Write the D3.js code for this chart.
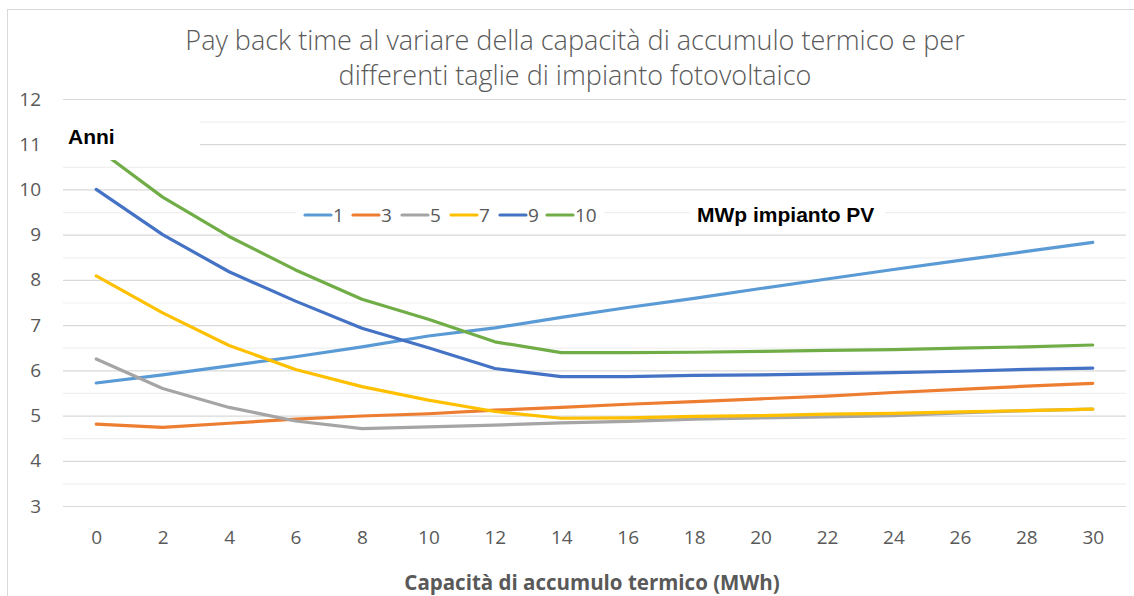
<!DOCTYPE html>
<html>
<head>
<meta charset="utf-8">
<script src="https://cdn.jsdelivr.net/npm/d3@7"></script>
<style>
  body { margin: 0; background: #fff; }
  text { font-family: "Open Sans", sans-serif; }
  text.label { font-family: "Liberation Sans", Arial, sans-serif; }
</style>
</head>
<body>
<div id="chart-area"></div>
<script>
const capacity = [0, 2, 4, 6, 8, 10, 12, 14, 16, 18, 20, 22, 24, 26, 28, 30];
const seriesNames = ['1', '3', '5', '7', '9', '10'];
const pv1 = [5.72, 5.9, 6.1, 6.3, 6.52, 6.76, 6.94, 7.17, 7.39, 7.59, 7.81, 8.02, 8.23, 8.43, 8.63, 8.83];
const pv3 = [4.81, 4.74, 4.83, 4.92, 4.99, 5.04, 5.12, 5.18, 5.25, 5.31, 5.37, 5.43, 5.51, 5.58, 5.65, 5.71];
const pv5 = [6.25, 5.6, 5.18, 4.88, 4.71, 4.75, 4.79, 4.84, 4.87, 4.92, 4.95, 4.97, 5.0, 5.06, 5.11, 5.14];
const pv7 = [8.09, 7.27, 6.55, 6.02, 5.64, 5.34, 5.09, 4.94, 4.95, 4.98, 5.0, 5.03, 5.05, 5.08, 5.11, 5.14];
const pv9 = [10.0, 9.0, 8.18, 7.53, 6.93, 6.5, 6.04, 5.86, 5.86, 5.89, 5.9, 5.92, 5.95, 5.98, 6.02, 6.05];
const pv10 = [10.92, 9.83, 8.96, 8.22, 7.57, 7.13, 6.63, 6.39, 6.39, 6.4, 6.42, 6.44, 6.46, 6.49, 6.52, 6.56];
const yTicks = [3, 4, 5, 6, 7, 8, 9, 10, 11, 12];

const seriesValues = [pv1, pv3, pv5, pv7, pv9, pv10];
const colors = ['#5B9BD5', '#ED7D31', '#A5A5A5', '#FFC000', '#4472C4', '#70AD47'];

const W = 1134, H = 596;
const plot = {left: 63, right: 1126, top: 99, bottom: 506};

const svg = d3.select('#chart-area')
    .append('svg')
    .attr('width', W)
    .attr('height', H);

// chart border
svg.append('rect')
    .attr('x', 7.5).attr('y', 9.5)
    .attr('width', 1300).attr('height', 800)
    .attr('fill', '#fff')
    .attr('stroke', '#d9d9d9');

const xScale = d3.scalePoint()
    .domain(capacity)
    .range([plot.left, plot.right])
    .padding(0.5);

const yScale = d3.scaleLinear()
    .domain([3, 12])
    .range([plot.bottom, plot.top]);

// minor gridlines
const minor = d3.range(3.5, 12, 1);
svg.append('g').selectAll('line')
    .data(minor).join('line')
    .attr('x1', plot.left).attr('x2', plot.right)
    .attr('y1', d => yScale(d) + 0.5).attr('y2', d => yScale(d) + 0.5)
    .attr('stroke', '#f0f0f0').attr('stroke-width', 1.2);

// major gridlines
svg.append('g').selectAll('line')
    .data(yTicks).join('line')
    .attr('x1', plot.left).attr('x2', plot.right)
    .attr('y1', d => yScale(d) + 0.5).attr('y2', d => yScale(d) + 0.5)
    .attr('stroke', '#d9d9d9').attr('stroke-width', 1.2);

// y axis labels
const yAxis = d3.axisLeft(yScale).tickValues(yTicks).tickSize(0).tickPadding(0);
svg.append('g')
    .attr('transform', 'translate(41,0)')
    .call(yAxis)
    .call(g => g.select('.domain').remove())
    .selectAll('text')
    .attr('font-size', '19px')
    .attr('fill', '#595959');

// x axis labels
const xAxis = d3.axisBottom(xScale).tickSize(0).tickPadding(0);
svg.append('g')
    .attr('transform', 'translate(0,530)')
    .call(xAxis)
    .call(g => g.select('.domain').remove())
    .selectAll('text')
    .attr('font-size', '19px')
    .attr('fill', '#595959');

// lines
const line = d3.line()
    .x((d, i) => xScale(capacity[i]))
    .y(d => yScale(d));

svg.append('g').selectAll('path')
    .data(seriesValues).join('path')
    .attr('d', d => line(d))
    .attr('fill', 'none')
    .attr('stroke', (d, i) => colors[i])
    .attr('stroke-width', 3.2)
    .attr('stroke-linecap', 'round')
    .attr('stroke-linejoin', 'round');

// "Anni" label box
svg.append('rect')
    .attr('x', plot.left).attr('y', 106)
    .attr('width', 137).attr('height', 54)
    .attr('fill', '#fff');
svg.append('text')
    .attr('class', 'label')
    .text('Anni')
    .attr('x', 68).attr('y', 144)
    .attr('font-weight', 'bold')
    .attr('font-size', '21px')
    .attr('fill', '#000');

// legend
const legend = svg.append('g');
legend.append('rect')
    .attr('x', 296).attr('y', 202)
    .attr('width', 308).attr('height', 26)
    .attr('fill', '#fff');
const legendX = [305, 353, 402, 451, 500, 547];
const items = legend.selectAll('g')
    .data(seriesNames).join('g')
    .attr('transform', (d, i) => 'translate(' + legendX[i] + ',215)');
items.append('line')
    .attr('x1', 0).attr('x2', 26)
    .attr('stroke', (d, i) => colors[i])
    .attr('stroke-width', 3.2)
    .attr('stroke-linecap', 'round');
items.append('text')
    .text(d => d)
    .attr('x', 28).attr('y', 7)
    .attr('font-size', '19px')
    .attr('fill', '#595959');

legend.append('rect')
    .attr('x', 690).attr('y', 200)
    .attr('width', 195).attr('height', 30)
    .attr('fill', '#fff');
legend.append('text')
    .attr('class', 'label')
    .text('MWp impianto PV')
    .attr('x', 697).attr('y', 222)
    .attr('font-weight', 'bold')
    .attr('font-size', '21px')
    .attr('fill', '#000');

// title
const title = svg.append('text')
    .attr('text-anchor', 'middle')
    .attr('font-size', '27px')
    .attr('font-weight', 300)
    .attr('fill', '#595959');
title.append('tspan')
    .attr('x', 575).attr('y', 50)
    .text('Pay back time al variare della capacità di accumulo termico e per');
title.append('tspan')
    .attr('x', 575).attr('y', 85)
    .text('differenti taglie di impianto fotovoltaico');

// x axis title
svg.append('text')
    .text('Capacità di accumulo termico (MWh)')
    .attr('x', 592).attr('y', 590)
    .attr('text-anchor', 'middle')
    .attr('font-size', '20.5px')
    .attr('font-weight', 'bold')
    .attr('fill', '#595959');
</script>
</body>
</html>
